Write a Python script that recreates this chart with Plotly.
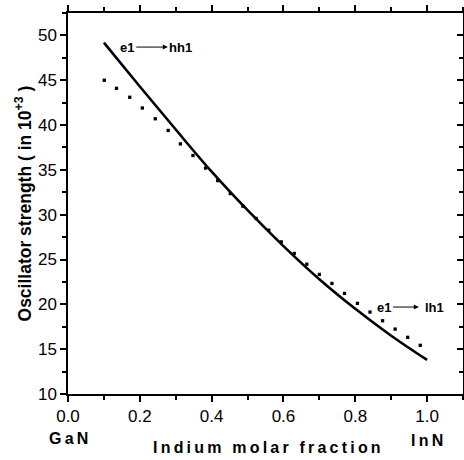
import plotly.graph_objects as go

# Solid curve: e1 -> hh1
x_hh = [0.1, 0.2, 0.3, 0.4, 0.5, 0.6, 0.7, 0.8, 0.9, 1.0]
y_hh = [49.2, 44.3, 39.5, 34.8, 30.5, 26.5, 22.8, 19.5, 16.5, 13.8]

# Dotted curve: e1 -> lh1 (individual dots)
x_lh = [0.101, 0.135, 0.172, 0.207, 0.243, 0.279, 0.313, 0.348, 0.383, 0.417,
        0.452, 0.487, 0.524, 0.559, 0.594, 0.630, 0.665, 0.700, 0.735, 0.770,
        0.806, 0.841, 0.876, 0.911, 0.946, 0.981]
y_lh = [45.0, 44.1, 43.1, 41.9, 40.7, 39.4, 37.9, 36.6, 35.2, 33.8,
        32.36, 30.95, 29.58, 28.27, 26.97, 25.68, 24.48, 23.34, 22.33, 21.22,
        20.11, 19.14, 18.17, 17.24, 16.32, 15.43]

x_ticks = [0.0, 0.2, 0.4, 0.6, 0.8, 1.0]
y_ticks = [10, 15, 20, 25, 30, 35, 40, 45, 50]

FONT = "Liberation Sans, Arial, sans-serif"
SP = "\u2009"

def spaced(s):
    return SP.join(list(s))

fig = go.Figure()
fig.add_trace(go.Scatter(x=x_hh, y=y_hh, mode="lines",
                         line=dict(color="black", width=2.6, shape="spline"),
                         showlegend=False, hoverinfo="skip"))
fig.add_trace(go.Scatter(x=x_lh, y=y_lh, mode="markers",
                         marker=dict(color="black", size=3.3, symbol="square",
                                     line=dict(width=0)),
                         showlegend=False, hoverinfo="skip"))
fig.add_trace(go.Scatter(x=[], y=[], yaxis="y2", showlegend=False, hoverinfo="skip"))

axis_common = dict(showline=True, linecolor="black", linewidth=1.5,
                   showgrid=False, zeroline=False, tickcolor="black",
                   tickwidth=1.5, ticklen=6,
                   tickfont=dict(family=FONT, size=17, color="black"))

fig.update_layout(
    width=464, height=460,
    margin=dict(l=68, r=1, t=13, b=66),
    paper_bgcolor="white", plot_bgcolor="white",
    xaxis=dict(range=[0, 1.1], tickvals=x_ticks, ticktext=[f"{v:.1f}" for v in x_ticks],
               ticks="outside", mirror="ticks",
               minor=dict(dtick=0.1, tick0=0, ticks="outside", ticklen=4,
                          tickwidth=1.5, tickcolor="black"),
               **axis_common),
    yaxis=dict(range=[10, 52.5], tickvals=y_ticks, ticks="outside", mirror=False,
               minor=dict(dtick=2.5, tick0=0, ticks="outside", ticklen=4,
                          tickwidth=1.5, tickcolor="black"),
               **axis_common),
    yaxis2=dict(range=[10, 52.5], overlaying="y", side="right", anchor="x",
                tickvals=y_ticks, ticks="inside", showticklabels=False,
                minor=dict(dtick=2.5, tick0=0, ticks="inside", ticklen=4,
                           tickwidth=1.5, tickcolor="black"),
                showline=True, linecolor="black", linewidth=1.5, showgrid=False,
                zeroline=False, tickcolor="black", tickwidth=1.5, ticklen=6),
)

bold = dict(family=FONT, size=13, color="black", weight="bold")
ann = []
# e1 -> hh1
ann.append(dict(x=0.164, y=48.7, xref="x", yref="y", text="e1", showarrow=False, font=bold))
ann.append(dict(x=0.278, y=48.7, ax=0.186, ay=48.7, xref="x", yref="y", axref="x", ayref="y",
                text="", showarrow=True, arrowhead=2, arrowsize=1, arrowwidth=1,
                arrowcolor="black", standoff=0, startstandoff=0))
ann.append(dict(x=0.314, y=48.7, xref="x", yref="y", text="hh1", showarrow=False, font=bold))
# e1 -> lh1
ann.append(dict(x=0.881, y=19.7, xref="x", yref="y", text="e1", showarrow=False, font=bold))
ann.append(dict(x=0.977, y=19.7, ax=0.901, ay=19.7, xref="x", yref="y", axref="x", ayref="y",
                text="", showarrow=True, arrowhead=2, arrowsize=1, arrowwidth=1,
                arrowcolor="black", standoff=0, startstandoff=0))
ann.append(dict(x=1.021, y=19.7, xref="x", yref="y", text="lh1", showarrow=False, font=bold))

# Axis titles and end labels
ann.append(dict(x=0.505, y=-0.1416, xref="paper", yref="paper",
                text=spaced("Indium") + SP + " " + SP + spaced("molar") + SP + " " + SP + spaced("fraction"),
                showarrow=False, xanchor="center", yanchor="middle",
                font=dict(family=FONT, size=16, color="black", weight="bold")))
ann.append(dict(x=0.0, y=-0.118, xref="x", yref="paper", text=spaced("GaN") ,
                showarrow=False, xanchor="center", yanchor="middle",
                font=dict(family=FONT, size=16, color="black", weight="bold")))
ann.append(dict(x=1.0, y=-0.123, xref="x", yref="paper", text=spaced("InN"),
                showarrow=False, xanchor="center", yanchor="middle",
                font=dict(family=FONT, size=16, color="black", weight="bold")))
ann.append(dict(x=-0.114, y=0.5, xref="paper", yref="paper",
                text="Oscillator strength ( in 10<sup>+3</sup> )", textangle=-90,
                showarrow=False, xanchor="center", yanchor="middle",
                font=dict(family=FONT, size=17.5, color="black", weight="bold")))
fig.update_layout(annotations=ann)

fig.write_html("out.html", config={"displayModeBar": False},
               post_script="document.body.style.margin='0';document.body.style.overflow='hidden';")
